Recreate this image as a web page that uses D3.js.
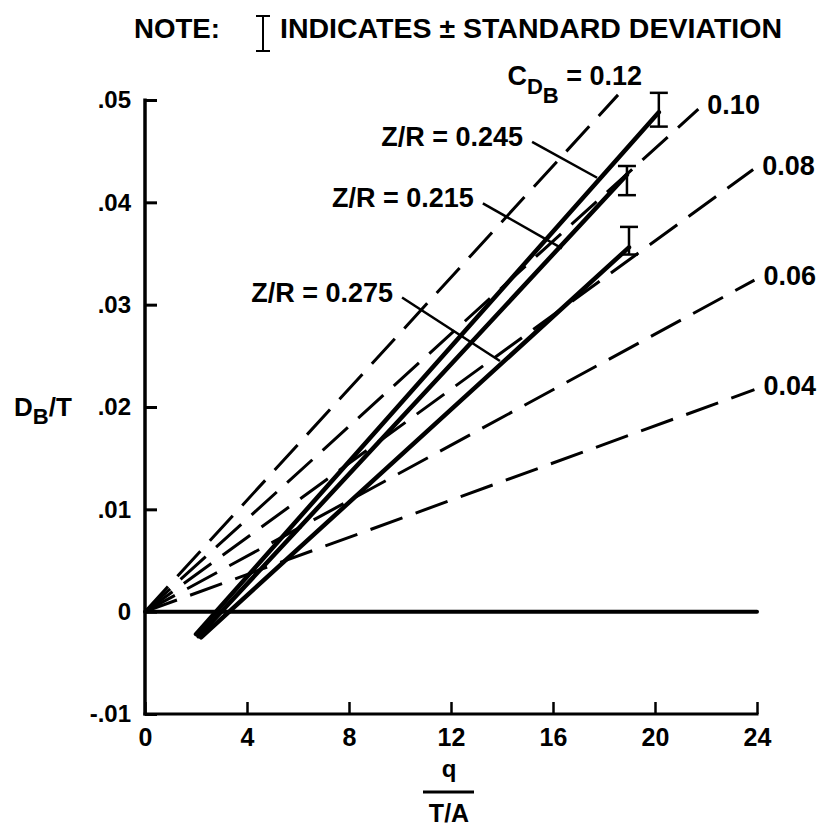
<!DOCTYPE html>
<html>
<head>
<meta charset="utf-8">
<script src="https://cdn.jsdelivr.net/npm/d3@7"></script>
<style>
  body { margin: 0; background: #fff; }
  text { font-family: "Liberation Sans", Arial, Helvetica, sans-serif; font-weight: bold; fill: #000; }
</style>
</head>
<body>
<svg id="chart" width="821" height="828"></svg>
<script>
// values
var xTicks = [0, 4, 8, 12, 16, 20, 24]
var yTicks = [-0.01, 0, 0.01, 0.02, 0.03, 0.04, 0.05]
var yTickLabels = ["-.01", "0", ".01", ".02", ".03", ".04", ".05"]

// dashed C_DB lines, from the origin to their end
var cdbValues = [0.12, 0.10, 0.08, 0.06, 0.04]
var cdbEndQ = [18.55, 21.7, 23.85, 23.9, 23.9]
var cdbEndD = [0.0505, 0.0491, 0.0432, 0.0324, 0.0217]

// solid Z/R lines
var zrValues = [0.245, 0.215, 0.275]
var zrStartQ = [2.0, 2.1, 2.2]
var zrStartD = [-0.0022, -0.0024, -0.0025]
var zrEndQ = [20.15, 18.9, 18.98]
var zrEndD = [0.0488, 0.0427, 0.0356]

// standard deviation bars at the end of each Z/R line
var errLow = [0.0474, 0.0407, 0.0349]
var errHigh = [0.0507, 0.04355, 0.0376]

var svg = d3.select('#chart')

var x = d3.scaleLinear().domain([0, 24]).range([145, 757])
var y = d3.scaleLinear().domain([-0.01, 0.05]).range([714, 100])

// title
svg.append('text')
    .attr('x', 134).attr('y', 38)
    .attr('textLength', 86).attr('lengthAdjust', 'spacingAndGlyphs')
    .style('font-size', '27px')
    .text('NOTE:')
svg.append('path')
    .attr('d', 'M256,16 H270 M263,16 V51 M256,51 H270')
    .attr('stroke', '#000').attr('stroke-width', 2).attr('fill', 'none')
svg.append('text')
    .attr('x', 280).attr('y', 38)
    .attr('textLength', 502).attr('lengthAdjust', 'spacingAndGlyphs')
    .style('font-size', '27px')
    .text('INDICATES \u00B1 STANDARD DEVIATION')

// axes
var axisX = d3.axisBottom(x).tickValues(xTicks).tickSize(-12).tickPadding(8)
var axisY = d3.axisLeft(y).tickValues(yTicks).tickSize(-12).tickPadding(14)
    .tickFormat(function(d, i) { return yTickLabels[i] })

var gx = svg.append('g')
    .attr('transform', 'translate(0,' + y(-0.01) + ')')
    .call(axisX)
gx.select('.domain').remove()
gx.append('line')
    .attr('x1', x(0) - 1.5).attr('x2', x(24) + 1.5)
    .attr('stroke', '#000').attr('stroke-width', 3)
gx.selectAll('.tick line').attr('stroke', '#000').attr('stroke-width', 2.5)
gx.selectAll('.tick text')
    .style('font-size', '25px').style('font-family', null).attr('fill', '#000')
    .attr('dy', '0.95em')

var gy = svg.append('g')
    .attr('transform', 'translate(' + x(0) + ',0)')
    .call(axisY)
gy.select('.domain').remove()
gy.append('line')
    .attr('y1', y(-0.01) + 1.5).attr('y2', y(0.05) - 1.5)
    .attr('stroke', '#000').attr('stroke-width', 3.5)
gy.selectAll('.tick line').attr('stroke', '#000').attr('stroke-width', 3)
gy.selectAll('.tick text')
    .style('font-size', '24px').style('font-family', null).attr('fill', '#000')

// zero line
svg.append('line')
    .attr('x1', x(0)).attr('x2', x(24))
    .attr('y1', y(0)).attr('y2', y(0))
    .attr('stroke', '#000').attr('stroke-width', 4)
    .attr('stroke-linecap', 'round')

// dashed C_DB lines
svg.append('g').selectAll('line')
    .data(cdbValues)
    .join('line')
    .attr('x1', x(0)).attr('y1', y(0))
    .attr('x2', function(d, i) { return x(cdbEndQ[i]) })
    .attr('y2', function(d, i) { return y(cdbEndD[i]) })
    .attr('stroke', '#000').attr('stroke-width', 3)
    .attr('stroke-dasharray', '34,14')

// C_DB labels
var cdbLab = svg.append('g').selectAll('text')
    .data(cdbValues)
    .join('text')
    .style('font-size', '27px')
    .attr('x', function(d, i) { return i == 0 ? x(cdbEndQ[i]) + 24 : x(cdbEndQ[i]) + 9 })
    .attr('y', function(d, i) { return i == 0 ? y(cdbEndD[i]) - 10 : y(cdbEndD[i]) + 5 })
    .attr('text-anchor', function(d, i) { return i == 0 ? 'end' : 'start' })
cdbLab.filter(function(d, i) { return i == 0 }).each(function(d) {
    var t = d3.select(this)
    t.append('tspan').text('C')
    t.append('tspan').attr('dy', 9).style('font-size', '22px').text('D')
    t.append('tspan').attr('dy', 9).style('font-size', '22px').text('B')
    t.append('tspan').attr('dy', -18).text(' = ' + d3.format('.2f')(d))
})
cdbLab.filter(function(d, i) { return i > 0 })
    .text(function(d) { return d3.format('.2f')(d) })

// solid Z/R lines
svg.append('g').selectAll('line')
    .data(zrValues)
    .join('line')
    .attr('x1', function(d, i) { return x(zrStartQ[i]) })
    .attr('y1', function(d, i) { return y(zrStartD[i]) })
    .attr('x2', function(d, i) { return x(zrEndQ[i]) })
    .attr('y2', function(d, i) { return y(zrEndD[i]) })
    .attr('stroke', '#000').attr('stroke-width', 4.5)
    .attr('stroke-linecap', 'round')

// error bars
var eb = svg.append('g').selectAll('g')
    .data(zrValues)
    .join('g')
    .attr('stroke', '#000').attr('stroke-width', 2.5)
eb.append('line')
    .attr('x1', function(d, i) { return x(zrEndQ[i]) })
    .attr('x2', function(d, i) { return x(zrEndQ[i]) })
    .attr('y1', function(d, i) { return y(errLow[i]) })
    .attr('y2', function(d, i) { return y(errHigh[i]) })
eb.append('line')
    .attr('x1', function(d, i) { return x(zrEndQ[i]) - 9 })
    .attr('x2', function(d, i) { return x(zrEndQ[i]) + 9 })
    .attr('y1', function(d, i) { return y(errHigh[i]) })
    .attr('y2', function(d, i) { return y(errHigh[i]) })
eb.append('line')
    .attr('x1', function(d, i) { return x(zrEndQ[i]) - 9 })
    .attr('x2', function(d, i) { return x(zrEndQ[i]) + 9 })
    .attr('y1', function(d, i) { return y(errLow[i]) })
    .attr('y2', function(d, i) { return y(errLow[i]) })

// Z/R labels with leader lines to their line
var leadFrom = [[15.18, 0.0459], [13.25, 0.0399], [10.08, 0.0307]]
var leadTo = [[17.73, 0.0424], [16.35, 0.0355], [13.92, 0.0245]]
svg.append('g').selectAll('line')
    .data(zrValues)
    .join('line')
    .attr('x1', function(d, i) { return x(leadFrom[i][0]) })
    .attr('y1', function(d, i) { return y(leadFrom[i][1]) })
    .attr('x2', function(d, i) { return x(leadTo[i][0]) })
    .attr('y2', function(d, i) { return y(leadTo[i][1]) })
    .attr('stroke', '#000').attr('stroke-width', 2.5)
svg.append('g').selectAll('text')
    .data(zrValues)
    .join('text')
    .attr('x', function(d, i) { return x(leadFrom[i][0]) - 9 })
    .attr('y', function(d, i) { return y(leadFrom[i][1]) + 4 })
    .attr('text-anchor', 'end')
    .style('font-size', '27px')
    .text(function(d) { return 'Z/R = ' + d })

// axis titles
var yl = svg.append('text').attr('x', 14).attr('y', 416).style('font-size', '26px')
yl.append('tspan').text('D')
yl.append('tspan').attr('dy', 8).style('font-size', '22px').text('B')
yl.append('tspan').attr('dy', -8).text('/T')

svg.append('text').attr('x', 449).attr('y', 777)
    .attr('text-anchor', 'middle').style('font-size', '24px').text('q')
svg.append('line')
    .attr('x1', 423).attr('x2', 474).attr('y1', 792).attr('y2', 792)
    .attr('stroke', '#000').attr('stroke-width', 3)
svg.append('text').attr('x', 449).attr('y', 822)
    .attr('text-anchor', 'middle').style('font-size', '25px').text('T/A')
</script>
</body>
</html>
